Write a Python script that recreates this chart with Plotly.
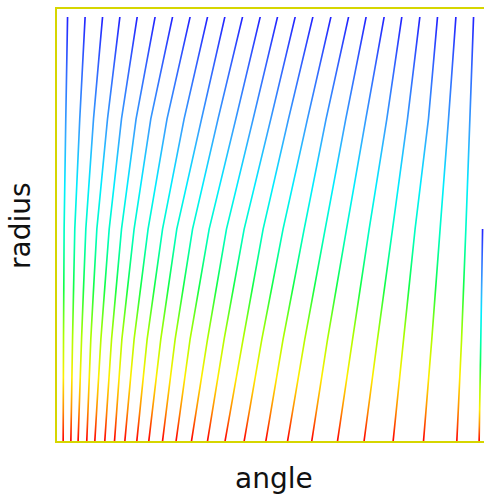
import plotly.graph_objects as go

# radius levels (0 = bottom, 1 = top of the curves)
radius_levels = [0.0, 0.24, 0.5, 0.76, 1.0]

# angle (degrees) of each curve at each radius level
angle_r000 = [4.5, 11.0, 17.1, 24.4, 31.2, 39.6, 47.8, 56.5, 66.6, 76.7, 88.3, 99.7,
              112.7, 126.2, 141.0, 157.1, 175.4, 193.7, 214.1, 235.8, 258.2, 282.7,
              308.3, 336.4, 355.2]
angle_r024 = [4.8, 12.4, 20.0, 27.8, 36.3, 45.3, 54.0, 64.3, 75.3, 86.8, 98.9, 111.5,
              126.2, 140.2, 156.2, 172.0, 189.9, 208.2, 227.4, 248.5, 269.5, 291.5,
              315.3, 340.4, 356.6]
angle_r050 = [5.3, 14.3, 23.6, 32.9, 43.3, 53.7, 64.3, 76.1, 88.3, 100.3, 113.6, 127.6,
              142.2, 157.1, 173.1, 189.9, 207.7, 225.4, 243.4, 262.5, 282.2, 301.2,
              322.3, 344.0, 358.1]
angle_r076 = [6.7, 18.5, 30.1, 41.9, 53.7, 66.0, 78.4, 92.1, 106.5, 121.2, 135.1, 150.1,
              164.7, 179.6, 194.5, 210.5, 226.2, 242.8, 259.7, 277.4, 294.8, 312.5,
              329.4, 347.4]
angle_r100 = [8.2, 23.0, 37.7, 52.3, 66.9, 82.0, 96.7, 111.5, 126.2, 140.8, 155.7, 170.6,
              185.2, 200.1, 215.0, 230.2, 245.1, 259.9, 275.1, 290.0, 305.2, 320.1,
              335.6, 350.5]

levels = [angle_r000, angle_r024, angle_r050, angle_r076, angle_r100]

colorscale = [
    [0.0, "#ff0000"],
    [0.07, "#ff8800"],
    [0.15, "#ffee00"],
    [0.25, "#aaff00"],
    [0.36, "#11ff44"],
    [0.48, "#00ffbb"],
    [0.6, "#00eeff"],
    [0.72, "#33aaff"],
    [0.88, "#3366ff"],
    [1.0, "#2222ff"],
]

LINE_W = 1.4  # stroke thickness in angle units
BORDER = "#d6d600"

fig = go.Figure()
n_curves = len(angle_r000)
for i in range(n_curves):
    rs, angs = [], []
    for r, lev in zip(radius_levels, levels):
        if i < len(lev):
            rs.append(r)
            angs.append(lev[i])
    xs = angs + [a + LINE_W for a in reversed(angs)]
    ys = rs + rs[::-1]
    fig.add_trace(go.Scatter(
        x=xs, y=ys, mode="none", fill="toself",
        fillgradient=dict(type="vertical", colorscale=colorscale),
        hoverinfo="skip", showlegend=False,
    ))

fig.update_layout(
    width=484, height=495,
    margin=dict(l=57, r=0, t=9, b=54),
    paper_bgcolor="white", plot_bgcolor="white",
    showlegend=False,
    xaxis=dict(range=[0, 360], showticklabels=False, ticks="", showgrid=False,
               zeroline=False, showline=True, linecolor=BORDER, linewidth=2, mirror=True),
    yaxis=dict(range=[0, 1.019], showticklabels=False, ticks="", showgrid=False,
               zeroline=False, showline=True, linecolor=BORDER, linewidth=2, mirror=False),
    annotations=[
        dict(text="angle", xref="paper", yref="paper", x=(274 - 57) / 427, y=(441 - 478) / 432,
             xanchor="center", yanchor="middle", showarrow=False,
             font=dict(family="DejaVu Sans", size=28, color="#111111")),
        dict(text="radius", xref="paper", yref="paper", x=(20 - 57) / 427, y=(441 - 226) / 432,
             xanchor="center", yanchor="middle", showarrow=False, textangle=-90,
             font=dict(family="DejaVu Sans", size=28, color="#111111")),
    ],
)

fig.write_html("out.html", config={"displayModeBar": False},
               post_script="document.body.style.margin='0';document.body.style.padding='0';")
